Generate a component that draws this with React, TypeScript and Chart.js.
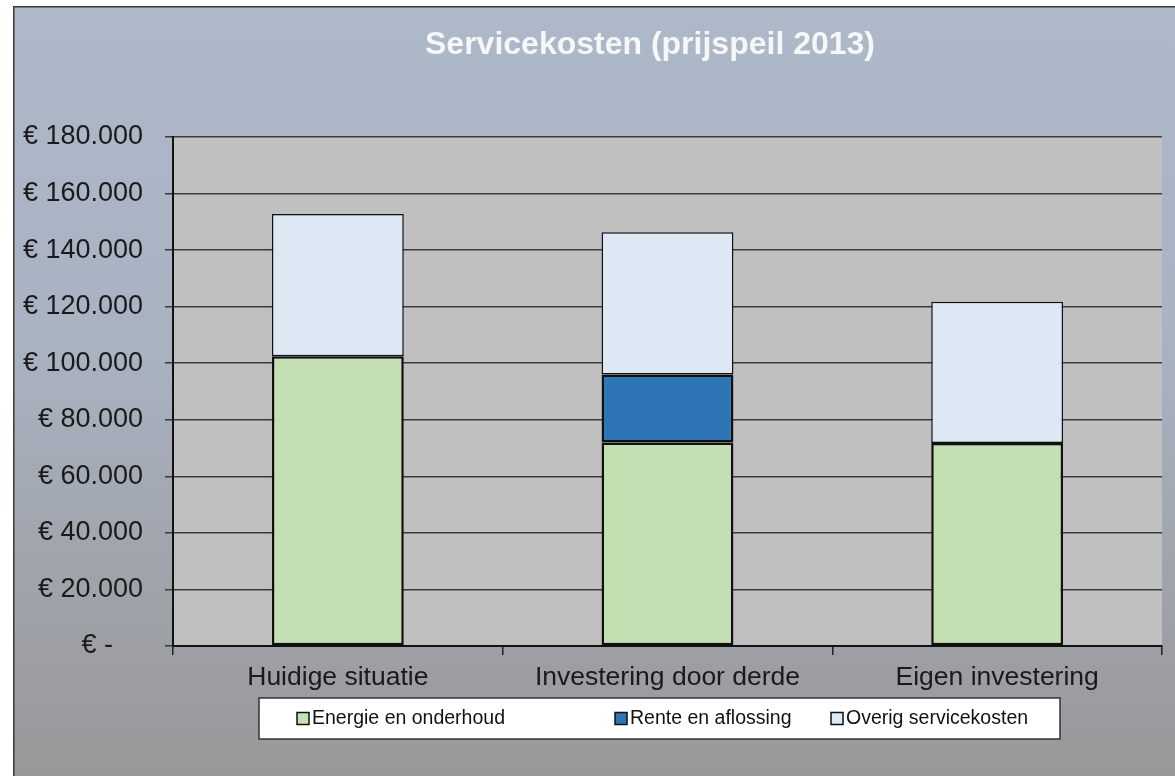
import React, { useEffect, useRef } from 'react';
import { Chart, registerables } from 'chart.js';

Chart.register(...registerables);

const titleText = 'Servicekosten (prijspeil 2013)';
const categories = ['Huidige situatie', 'Investering door derde', 'Eigen investering'];
const seriesNames = ['Energie en onderhoud', 'Rente en aflossing', 'Overig servicekosten'];
const energieValues = [102500, 72000, 71800];
const renteValues = [null, 24000, null];
const overigValues = [50300, 50300, 49900];
const seriesColors = ['#c4dfb2', '#2e75b6', '#dce9f5'];
const seriesBorderWidths = [2.5, 2.5, 1.5];
const yTickLabels = [
  '€ -\u00A0\u00A0\u00A0\u00A0',
  '€ 20.000',
  '€ 40.000',
  '€ 60.000',
  '€ 80.000',
  '€ 100.000',
  '€ 120.000',
  '€ 140.000',
  '€ 160.000',
  '€ 180.000',
];
const yMin = 0;
const yMax = 180000;
const yStep = 20000;

const FONT = '"Liberation Sans", Arial, Helvetica, sans-serif';

// legend layout (canvas pixels)
const LEGEND_BOX = { left: 246, top: 692, width: 801, height: 41 };
const LEGEND_ITEM_X = [284, 602, 818];
const LEGEND_CY = 712.5;
const LEGEND_SWATCH = 12;
const LEGEND_TEXT_GAP = 3;

const backdropPlugin = {
  id: 'backdrop',
  beforeDraw(chart: any) {
    const { ctx, width, height, chartArea: a } = chart;
    ctx.save();
    const g = ctx.createLinearGradient(0, 0, 0, height);
    g.addColorStop(0, '#adb8c9');
    g.addColorStop(0.45, '#a9b2c1');
    g.addColorStop(0.75, '#9fa3aa');
    g.addColorStop(1, '#989899');
    ctx.fillStyle = g;
    ctx.fillRect(0, 0, width, height);

    ctx.strokeStyle = '#3a3a3a';
    ctx.lineWidth = 1.5;
    ctx.beginPath();
    ctx.moveTo(0.75, height);
    ctx.lineTo(0.75, 0.75);
    ctx.lineTo(width, 0.75);
    ctx.stroke();

    ctx.fillStyle = '#c0c0c0';
    ctx.fillRect(a.left, a.top, a.right - a.left, a.bottom - a.top);

    ctx.fillStyle = '#f6f7f9';
    ctx.font = 'bold 32px ' + FONT;
    ctx.textAlign = 'center';
    ctx.textBaseline = 'alphabetic';
    ctx.fillText(titleText, 637, 48);
    ctx.restore();
  },
  afterDraw(chart: any) {
    const { ctx } = chart;
    const items = Chart.defaults.plugins.legend.labels.generateLabels(chart);
    ctx.save();
    ctx.fillStyle = '#ffffff';
    ctx.fillRect(LEGEND_BOX.left, LEGEND_BOX.top, LEGEND_BOX.width, LEGEND_BOX.height);
    ctx.strokeStyle = '#333333';
    ctx.lineWidth = 1.5;
    ctx.strokeRect(LEGEND_BOX.left, LEGEND_BOX.top, LEGEND_BOX.width, LEGEND_BOX.height);
    ctx.font = '19.5px ' + FONT;
    ctx.textAlign = 'left';
    ctx.textBaseline = 'middle';
    items.forEach((item: any, i: number) => {
      const x = LEGEND_ITEM_X[i];
      const y = LEGEND_CY - LEGEND_SWATCH / 2;
      ctx.fillStyle = item.fillStyle;
      ctx.fillRect(x, y, LEGEND_SWATCH, LEGEND_SWATCH);
      ctx.strokeStyle = '#111111';
      ctx.lineWidth = 1.5;
      ctx.strokeRect(x, y, LEGEND_SWATCH, LEGEND_SWATCH);
      ctx.fillStyle = '#111111';
      ctx.fillText(item.text, x + LEGEND_SWATCH + LEGEND_TEXT_GAP, LEGEND_CY);
    });
    ctx.restore();
  },
};

export default function App() {
  const canvasRef = useRef<HTMLCanvasElement | null>(null);

  useEffect(() => {
    if (!canvasRef.current) return;
    const seriesData = [energieValues, renteValues, overigValues];
    const chart = new Chart(canvasRef.current, {
      type: 'bar',
      data: {
        labels: categories,
        datasets: seriesNames.map((name, i) => ({
          label: name,
          data: seriesData[i] as any,
          backgroundColor: seriesColors[i],
          borderColor: '#111111',
          borderWidth: seriesBorderWidths[i],
          borderSkipped: false,
          barPercentage: 0.4,
          categoryPercentage: 1,
        })),
      },
      options: {
        animation: false,
        responsive: false,
        devicePixelRatio: 1,
        events: [],
        layout: { padding: { top: 131, left: 0, right: 13, bottom: 70 } },
        plugins: {
          title: { display: false },
          tooltip: { enabled: false },
          legend: { display: false },
        },
        scales: {
          x: {
            stacked: true,
            offset: true,
            afterFit: (scale: any) => {
              scale.height = 60;
            },
            grid: {
              display: true,
              offset: true,
              drawOnChartArea: false,
              drawTicks: true,
              tickLength: 9,
              color: '#222222',
              lineWidth: 1.5,
            },
            border: { display: true, color: '#111111', width: 2 },
            ticks: {
              color: '#1a1a1a',
              font: { family: FONT, size: 26.5 },
              padding: 7,
              maxRotation: 0,
              autoSkip: false,
            },
          },
          y: {
            stacked: true,
            min: yMin,
            max: yMax,
            afterFit: (scale: any) => {
              scale.width = 160;
            },
            grid: {
              display: true,
              drawOnChartArea: true,
              drawTicks: true,
              tickLength: 8,
              color: '#3a3a3a',
              lineWidth: 1.5,
            },
            border: { display: true, color: '#111111', width: 2 },
            ticks: {
              stepSize: yStep,
              color: '#1a1a1a',
              font: { family: FONT, size: 27 },
              padding: 22,
              callback: (_v: any, index: number) => yTickLabels[index],
            },
          },
        },
      },
      plugins: [backdropPlugin],
    });
    return () => chart.destroy();
  }, []);

  return (
    <div style={{ position: 'absolute', left: 13, top: 6, width: 1162, height: 770, overflow: 'hidden' }}>
      <canvas ref={canvasRef} width={1162} height={770} style={{ display: 'block', width: 1162, height: 770 }} />
    </div>
  );
}
